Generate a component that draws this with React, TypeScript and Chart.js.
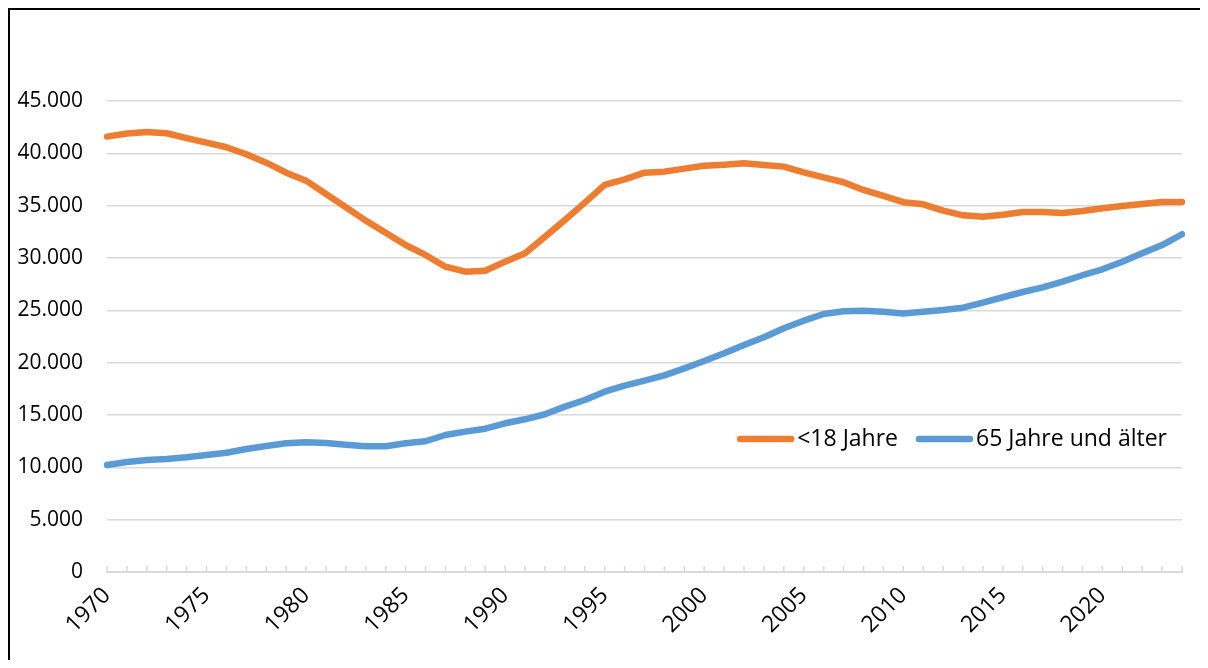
import React, { useEffect, useRef } from 'react';
import { Chart, registerables } from 'chart.js';

Chart.register(...registerables);

const years = [
  '1970', '1971', '1972', '1973', '1974', '1975', '1976', '1977', '1978', '1979',
  '1980', '1981', '1982', '1983', '1984', '1985', '1986', '1987', '1988', '1989',
  '1990', '1991', '1992', '1993', '1994', '1995', '1996', '1997', '1998', '1999',
  '2000', '2001', '2002', '2003', '2004', '2005', '2006', '2007', '2008', '2009',
  '2010', '2011', '2012', '2013', '2014', '2015', '2016', '2017', '2018', '2019',
  '2020', '2021', '2022', '2023', '2024',
];

const under18 = [
  41600, 41900, 42040, 41920, 41450, 41020, 40580, 39910, 39110, 38150,
  37390, 36120, 34850, 33570, 32420, 31240, 30290, 29170, 28690, 28790,
  29650, 30450, 32040, 33630, 35290, 36980, 37520, 38150, 38250, 38540,
  38820, 38920, 39050, 38890, 38730, 38190, 37710, 37240, 36500, 35930,
  35330, 35130, 34520, 34080, 33950, 34140, 34400, 34400, 34300, 34490,
  34750, 34970, 35160, 35350, 35350,
];

const over65 = [
  10220, 10510, 10700, 10800, 10960, 11180, 11400, 11750, 12040, 12300,
  12390, 12330, 12160, 12010, 12010, 12300, 12490, 13090, 13410, 13690,
  14210, 14590, 15070, 15800, 16430, 17230, 17800, 18280, 18790, 19460,
  20160, 20900, 21690, 22430, 23290, 24010, 24650, 24910, 24970, 24870,
  24700, 24870, 25030, 25250, 25730, 26250, 26750, 27200, 27740, 28350,
  28920, 29650, 30450, 31240, 32270,
];

const seriesNames = ['<18 Jahre', '65 Jahre und älter'];
const seriesColors = ['#ED7D31', '#5B9BD5'];

const yMin = 0;
const yMax = 45000;
const yStep = 5000;
const labelEvery = 5;

const FONT = "'Open Sans', 'Noto Sans', sans-serif";
const GRID = '#d9d9d9';

function fmt(v: number): string {
  return String(v).replace(/\B(?=(\d{3})+(?!\d))/g, '.');
}

const tickMarksPlugin = {
  id: 'tickMarks',
  beforeDatasetsDraw(chart: any) {
    const x = chart.scales.x;
    const area = chart.chartArea;
    const ctx = chart.ctx;
    ctx.save();
    ctx.strokeStyle = GRID;
    ctx.lineWidth = 1.5;
    for (let i = 0; i < years.length; i++) {
      const px = x.getPixelForValue(i);
      ctx.beginPath();
      ctx.moveTo(px, area.bottom);
      ctx.lineTo(px, area.bottom - 6);
      ctx.stroke();
    }
    ctx.restore();
  },
};

const innerLegendPlugin = {
  id: 'innerLegend',
  afterDraw(chart: any) {
    const ctx = chart.ctx;
    const area = chart.chartArea;
    const cy = area.top + 338;
    const sampleW = 57;
    const gapText = 3;
    const gapItem = 18;
    ctx.save();
    ctx.font = `23px ${FONT}`;
    ctx.textBaseline = 'middle';
    ctx.textAlign = 'left';
    let right = area.right - 15;
    for (let i = seriesNames.length - 1; i >= 0; i--) {
      const name = seriesNames[i];
      const w = ctx.measureText(name).width;
      const tx = right - w;
      ctx.fillStyle = '#000';
      ctx.fillText(name, tx, cy);
      const sx1 = tx - gapText;
      const sx0 = sx1 - sampleW;
      ctx.strokeStyle = seriesColors[i];
      ctx.lineWidth = 6.5;
      ctx.lineCap = 'round';
      ctx.beginPath();
      ctx.moveTo(sx0 + 3, cy);
      ctx.lineTo(sx1 - 3, cy);
      ctx.stroke();
      right = sx0 - gapItem;
    }
    ctx.restore();
  },
};

export default function App() {
  const ref = useRef<HTMLCanvasElement | null>(null);

  useEffect(() => {
    document.body.style.overflow = 'hidden';
    const canvas = ref.current;
    if (!canvas) return;
    const chart = new Chart(canvas, {
      type: 'line',
      data: {
        labels: years,
        datasets: [
          {
            label: seriesNames[0],
            data: under18,
            borderColor: seriesColors[0],
            backgroundColor: seriesColors[0],
          },
          {
            label: seriesNames[1],
            data: over65,
            borderColor: seriesColors[1],
            backgroundColor: seriesColors[1],
          },
        ],
      },
      options: {
        animation: false,
        responsive: false,
        layout: { padding: { top: 91, right: 26, left: 0, bottom: 0 } },
        plugins: {
          legend: { display: false },
          tooltip: { enabled: false },
        },
        elements: {
          point: { radius: 0 },
          line: {
            borderWidth: 6.5,
            tension: 0,
            borderCapStyle: 'round',
            borderJoinStyle: 'round',
          },
        },
        scales: {
          x: {
            type: 'category',
            offset: false,
            grid: { display: false, drawTicks: false },
            border: { display: true, color: GRID, width: 2 },
            ticks: {
              autoSkip: false,
              maxRotation: 45,
              minRotation: 45,
              padding: 10,
              color: '#000',
              font: { family: FONT, size: 23 },
              callback: (_v: any, i: number) =>
                Number(years[i]) % labelEvery === 0 ? years[i] : '',
            },
            afterFit: (s: any) => {
              s.height = 88;
              s.paddingRight = 0;
              s.paddingLeft = 0;
            },
          },
          y: {
            min: yMin,
            max: yMax,
            ticks: {
              stepSize: yStep,
              padding: 24,
              color: '#000',
              font: { family: FONT, size: 21 },
              callback: (v: any) => fmt(Number(v)),
            },
            grid: { color: GRID, lineWidth: 1.5, drawTicks: false },
            border: { display: false },
            afterFit: (s: any) => {
              s.width = 97;
            },
          },
        },
      },
      plugins: [tickMarksPlugin, innerLegendPlugin],
    } as any);
    return () => chart.destroy();
  }, []);

  return (
    <div
      style={{
        width: 1240,
        height: 650,
        borderTop: '2px solid #000',
        borderLeft: '2px solid #000',
        background: '#fff',
      }}
    >
      <canvas ref={ref} width={1198} height={650} style={{ display: 'block' }} />
    </div>
  );
}
